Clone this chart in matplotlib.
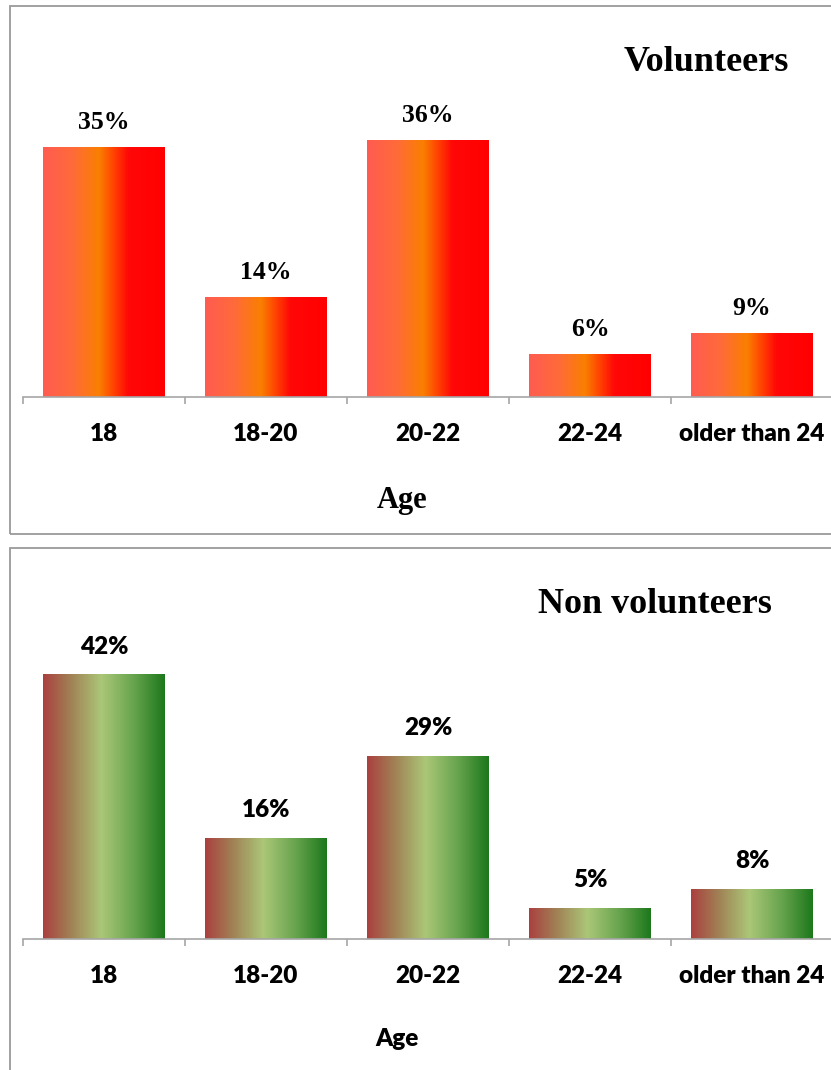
import numpy as np
import matplotlib
matplotlib.use("Agg")
import matplotlib.pyplot as plt
from matplotlib.patches import Rectangle
from matplotlib.colors import LinearSegmentedColormap

# ---- data ----
categories = ["18", "18-20", "20-22", "22-24", "older than 24"]
volunteers = [35, 14, 36, 6, 9]
non_volunteers = [42, 16, 29, 5, 8]

W, H = 831, 1070
fig = plt.figure(figsize=(W / 100, H / 100), dpi=100)

SERIF = "Liberation Serif"
SANS = "Lato"
SANS_WEIGHT = "heavy"
SANS_SIZE = 17.5
GRID_GREY = "#a6a6a6"


def fx(px):
    return px / W


def fy(py):
    return 1 - py / H


# gradient maps running left -> right across each bar
warm = LinearSegmentedColormap.from_list(
    "warm",
    [(0.0, (1.0, 0.36, 0.32)), (0.25, (1.0, 0.42, 0.22)), (0.46, (0.98, 0.50, 0.0)),
     (0.56, (1.0, 0.30, 0.0)), (0.70, (1.0, 0.03, 0.03)), (1.0, (1.0, 0.0, 0.0))])
green = LinearSegmentedColormap.from_list(
    "green",
    [(0.0, (0.67, 0.25, 0.25)), (0.22, (0.63, 0.50, 0.33)), (0.48, (0.67, 0.78, 0.47)),
     (0.75, (0.40, 0.64, 0.30)), (1.0, (0.11, 0.47, 0.11))])


def gradient_bars(ax, values, cmap, ymax):
    bars = ax.bar(range(len(values)), values, width=0.75, color="none",
                  edgecolor="none", zorder=2)
    grad = np.linspace(0, 1, 256).reshape(1, -1)
    for b in bars:
        x0, y0 = b.get_x(), b.get_y()
        im = ax.imshow(grad, cmap=cmap, aspect="auto", interpolation="bicubic",
                       extent=[x0, x0 + b.get_width(), y0, y0 + b.get_height()],
                       zorder=1)
        im.set_clip_path(b)
    ax.set_xlim(-0.5, len(values) - 0.5)
    ax.set_ylim(0, ymax)
    return bars


def style_axis(ax, tick_pad):
    for s in ("top", "right", "left"):
        ax.spines[s].set_visible(False)
    ax.spines["bottom"].set_color(GRID_GREY)
    ax.spines["bottom"].set_linewidth(1.2)
    ax.set_yticks([])
    ax.set_xticks(range(len(categories)))
    ax.set_xticklabels(categories, fontfamily=SANS, fontweight=SANS_WEIGHT,
                       fontsize=SANS_SIZE)
    ax.tick_params(axis="x", which="major", length=0, pad=tick_pad)
    ax.set_xticks(np.arange(-0.5, len(categories) + 0.5, 1.0), minor=True)
    ax.tick_params(axis="x", which="minor", length=5, width=1.2, color=GRID_GREY)
    ax.patch.set_alpha(0)


# ---- panel 1: volunteers ----
ax1 = fig.add_axes([fx(23), fy(397), fx(810), 286 / H])
bars1 = gradient_bars(ax1, volunteers, warm, 40)
style_axis(ax1, 19)
for b, v in zip(bars1, volunteers):
    ax1.annotate(f"{v}%", (b.get_x() + b.get_width() / 2, v), xytext=(0, 13),
                 textcoords="offset points", ha="center", va="baseline",
                 fontfamily=SERIF, fontweight="bold", fontsize=18.5)

fig.text(fx(706), fy(71), "Volunteers", fontfamily=SERIF, fontweight="bold",
         fontsize=26, ha="center", va="baseline")
fig.text(fx(402), fy(508), "Age", fontfamily=SERIF, fontweight="bold",
         fontsize=22, ha="center", va="baseline")

# ---- panel 2: non volunteers ----
ax2 = fig.add_axes([fx(23), fy(939), fx(810), 283.5 / H])
bars2 = gradient_bars(ax2, non_volunteers, green, 45)
style_axis(ax2, 19)
for b, v in zip(bars2, non_volunteers):
    ax2.annotate(f"{v}%", (b.get_x() + b.get_width() / 2, v), xytext=(0, 15),
                 textcoords="offset points", ha="center", va="baseline",
                 fontfamily=SANS, fontweight=SANS_WEIGHT, fontsize=SANS_SIZE)

fig.text(fx(655), fy(613), "Non volunteers", fontfamily=SERIF, fontweight="bold",
         fontsize=26, ha="center", va="baseline")
fig.text(fx(397), fy(1046), "Age", fontfamily=SANS, fontweight=SANS_WEIGHT,
         fontsize=SANS_SIZE, ha="center", va="baseline")

# ---- chart frames ----
frame_kw = dict(fill=False, edgecolor="#9a9a9a", linewidth=1.3,
                transform=fig.transFigure, figure=fig)
fig.add_artist(Rectangle((fx(9.5), fy(534)), fx(840), (534 - 6) / H, **frame_kw))
fig.add_artist(Rectangle((fx(10), fy(1090)), fx(840), (1090 - 548) / H, **frame_kw))

fig.savefig("out.png", dpi=100)
